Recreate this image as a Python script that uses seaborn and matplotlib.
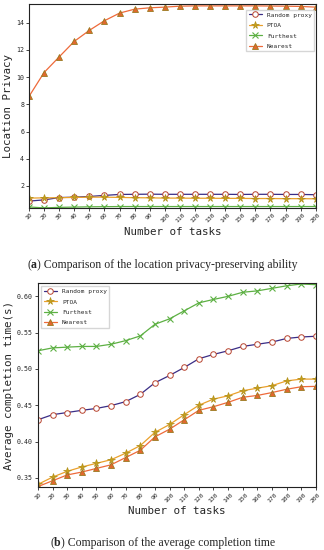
import seaborn as sns
from matplotlib import pyplot as plt

tasks = [10, 20, 30, 40, 50, 60, 70, 80, 90, 100, 110, 120, 130, 140, 150, 160, 170, 180, 190, 200]

# (a) location privacy
priv_random = [0.88, 0.97, 1.14, 1.17, 1.22, 1.30, 1.37, 1.38, 1.39, 1.38, 1.38, 1.38, 1.38, 1.38, 1.37, 1.38, 1.38, 1.37, 1.37, 1.35]
priv_ptoa = [1.10, 1.12, 1.13, 1.15, 1.17, 1.17, 1.15, 1.13, 1.12, 1.10, 1.10, 1.09, 1.09, 1.08, 1.08, 1.07, 1.07, 1.06, 1.06, 1.05]
priv_furthest = [0.45, 0.38, 0.42, 0.44, 0.46, 0.47, 0.48, 0.48, 0.48, 0.48, 0.48, 0.48, 0.48, 0.48, 0.48, 0.48, 0.48, 0.48, 0.48, 0.48]
priv_nearest = [8.58, 10.34, 11.49, 12.63, 13.44, 14.15, 14.71, 15.0, 15.1, 15.15, 15.22, 15.24, 15.24, 15.24, 15.24, 15.24, 15.23, 15.22, 15.2, 15.15]

# (b) average completion time
time_random = [0.430, 0.437, 0.440, 0.443, 0.4456, 0.4495, 0.455, 0.465, 0.481, 0.491, 0.502, 0.514, 0.520, 0.525, 0.531, 0.534, 0.537, 0.542, 0.544, 0.545]
time_ptoa = [0.341, 0.351, 0.359, 0.365, 0.370, 0.375, 0.384, 0.3945, 0.4127, 0.4235, 0.437, 0.450, 0.4585, 0.463, 0.470, 0.4735, 0.477, 0.4835, 0.486, 0.486]
time_furthest = [0.525, 0.529, 0.530, 0.531, 0.531, 0.534, 0.539, 0.5455, 0.5615, 0.569, 0.580, 0.591, 0.5957, 0.600, 0.6056, 0.6075, 0.611, 0.6145, 0.617, 0.616]
time_nearest = [0.338, 0.346, 0.354, 0.358, 0.363, 0.368, 0.378, 0.388, 0.4065, 0.417, 0.430, 0.443, 0.448, 0.454, 0.461, 0.4635, 0.4675, 0.472, 0.4755, 0.476]

labels = ["Random proxy", "PTOA", "Furthest", "Nearest"]

sns.set_theme(style="ticks")
plt.rcParams['font.family'] = ['DejaVu Sans Mono']
plt.rcParams['axes.linewidth'] = 0.8
plt.rcParams['xtick.major.width'] = 0.6
plt.rcParams['ytick.major.width'] = 0.6
plt.rcParams['xtick.major.size'] = 2
plt.rcParams['ytick.major.size'] = 2

styles = [
    dict(color="#3a2d86", marker="o", mfc="white", mec="#b8442f", ms=4.0, mew=0.7),
    dict(color="#eaa02c", marker="*", mfc="#c9a019", mec="#b0901a", ms=5.5, mew=0.5),
    dict(color="#5db043", marker="x", mfc="#5db043", mec="#5db043", ms=5, mew=0.8),
    dict(color="#ee6a3a", marker="^", mfc="#e3672e", mec="#9a7a20", ms=4.5, mew=0.6),
]

fig = plt.figure(figsize=(3.24, 5.5), dpi=100)
ax1 = fig.add_axes([0.0895, 0.622, 0.885, 0.370])
ax2 = fig.add_axes([0.117, 0.114, 0.858, 0.371])


def draw(ax, series):
    for vals, lab, st in zip(series, labels, styles):
        sns.lineplot(x=tasks, y=vals, ax=ax, label=lab, lw=0.9, **st)
    ax.set_xlim(10, 200)
    ax.set_xticks(tasks)
    ax.set_xticklabels([str(t) for t in tasks], rotation=45, fontsize=4.6)
    ax.tick_params(axis='y', labelsize=4.8, pad=1.5)
    ax.tick_params(axis='x', pad=1)
    ax.set_xlabel("Number of tasks", fontsize=7.8, labelpad=2)
    for s in ax.spines.values():
        s.set_visible(True)
        s.set_color("#222222")


legend_kw = dict(fontsize=4.4, frameon=True, fancybox=False, edgecolor="#cccccc",
                 borderpad=0.4, handlelength=2.2, labelspacing=0.85, borderaxespad=0)

draw(ax1, [priv_random, priv_ptoa, priv_furthest, priv_nearest])
ax1.set_ylim(0.38, 15.35)
ax1.set_yticks([2, 4, 6, 8, 10, 12, 14])
ax1.set_ylabel("Location Privacy", fontsize=7.8, labelpad=2)
ax1.legend(loc="upper right", bbox_to_anchor=(0.995, 0.973), **legend_kw)

draw(ax2, [time_random, time_ptoa, time_furthest, time_nearest])
ax2.set_ylim(0.337, 0.618)
ax2.set_yticks([0.35, 0.40, 0.45, 0.50, 0.55, 0.60])
ax2.set_yticklabels(["0.35", "0.40", "0.45", "0.50", "0.55", "0.60"])
ax2.set_ylabel("Average completion time(s)", fontsize=7.8, labelpad=2)
ax2.legend(loc="upper left", bbox_to_anchor=(0.012, 0.985), **legend_kw)

cap_font = ['Liberation Serif']


def caption(y, letter, rest):
    # centre the whole caption, then draw it in pieces so the letter can be bold
    full = fig.text(0.5, y, "(" + letter + ") " + rest, fontsize=8.5, family=cap_font,
                    va="center", ha="center", color="white")
    fig.canvas.draw()
    x0 = full.get_window_extent().x0 / fig.bbox.width
    full.remove()
    a = fig.text(x0, y, "(", fontsize=8.5, family=cap_font, va="center", ha="left")
    fig.canvas.draw()
    x1 = a.get_window_extent().x1 / fig.bbox.width
    b = fig.text(x1, y, letter, fontsize=8.5, family=cap_font, weight="bold", va="center", ha="left")
    fig.canvas.draw()
    x2 = b.get_window_extent().x1 / fig.bbox.width
    fig.text(x2, y, ") " + rest, fontsize=8.5, family=cap_font, va="center", ha="left")


caption(1 - 265 / 550, "a", "Comparison of the location privacy-preserving ability")
caption(1 - 543 / 550, "b", "Comparison of the average completion time")

fig.savefig("out.png", dpi=100)
